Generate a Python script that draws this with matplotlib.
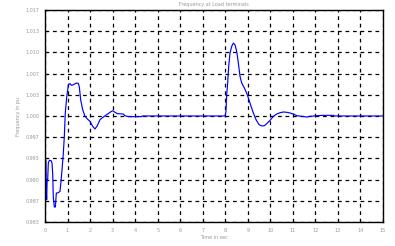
import matplotlib
matplotlib.use("Agg")
import matplotlib.pyplot as plt
import numpy as np

# time (s) and frequency (pu)
t = [0.0, 0.005, 0.015, 0.03, 0.05, 0.074, 0.095, 0.118, 0.148, 0.192, 0.266, 0.311, 0.340,
     0.370, 0.414, 0.459, 0.503, 0.547, 0.607, 0.666, 0.710, 0.755, 0.814, 0.858,
     0.90, 0.96, 1.036, 1.109, 1.183, 1.257, 1.331, 1.405, 1.479, 1.524, 1.583,
     1.672, 1.775, 1.879, 1.997, 2.115, 2.219, 2.322, 2.441, 2.589, 2.737, 2.885,
     3.003, 3.107, 3.21, 3.476, 3.55, 3.698, 4.29, 4.305,
     7.99, 8.03, 8.063, 8.107, 8.152, 8.21, 8.285, 8.359, 8.433, 8.507, 8.581,
     8.655, 8.729, 8.847, 8.951, 9.025, 9.144, 9.247, 9.366, 9.499, 9.618, 9.736,
     9.84, 9.988, 10.136, 10.284, 10.432, 10.58, 10.728, 10.876, 11.024, 11.172,
     11.394, 11.616, 11.764, 12.282, 12.8, 12.85, 15.0]
freq = [1.0, 0.9930, 0.98736, 0.9930, 0.9890, 0.98684, 0.9900, 0.98998, 0.99261, 0.99302,
        0.99300, 0.99261, 0.99104, 0.98710, 0.98569, 0.98569, 0.98789, 0.98789, 0.98800,
        0.98814, 0.98972, 0.99156, 0.99418, 0.99679,
        1.00047, 1.00283, 1.00492, 1.00508, 1.00481, 1.00492, 1.00508, 1.00518, 1.00513,
        1.00455, 1.00256, 1.00099, 0.99995, 0.99953, 0.99916, 0.99838, 0.99796, 0.99848,
        0.99942, 0.99984, 1.00021, 1.00058, 1.00084, 1.00058, 1.00037, 1.00031, 1.00005,
        0.9999, 0.9999, 1.0,
        1.0, 1.0007, 1.00335, 1.00518, 1.0078, 1.00989, 1.01094, 1.01146, 1.0112, 1.01015,
        1.00832, 1.00623, 1.00518, 1.0044, 1.00361, 1.00283, 1.00152, 1.00047, 0.99942,
        0.99864, 0.99843, 0.99848, 0.9988, 0.99932, 0.99995, 1.00031, 1.00052, 1.00063,
        1.00058, 1.00047, 1.00031, 1.00005, 0.99995, 0.99984, 0.99995, 1.0001, 1.0001,
        1.0, 1.0]

x_ticks = list(range(0, 16))
y_ticks = [1 - 1/60 + i/300 for i in range(11)]
y_labels = ["%.3f" % v for v in y_ticks]

fig = plt.figure(figsize=(3.95, 2.46), dpi=100)
ax = fig.add_axes([45/395, 1 - 222/246, (383 - 45)/395, (222 - 10)/246])
ax.plot(t, freq, color="#0000ff", linewidth=0.85)
ax.set_xlim(0, 15)
ax.set_ylim(1 - 1/60, 1 + 1/60)
ax.set_xticks(x_ticks)
ax.set_xticklabels([str(v) for v in x_ticks])
ax.set_yticks(y_ticks)
ax.set_yticklabels(y_labels)
ax.grid(True, color="black", linestyle=(0, (3, 3)), linewidth=0.9)
ax.tick_params(direction="in", length=2, width=0.8, labelsize=3.5, labelcolor="#999999", pad=4)
for s in ax.spines.values():
    s.set_linewidth(1.0)
ax.set_title("Frequency at Load terminals", fontsize=3.5, color="#999999", pad=3)
ax.set_xlabel("Time in sec", fontsize=3.5, color="#999999", labelpad=2)
ax.set_ylabel("Frequency in pu", fontsize=3.5, color="#999999", labelpad=3)
fig.savefig("out.png", dpi=100)
